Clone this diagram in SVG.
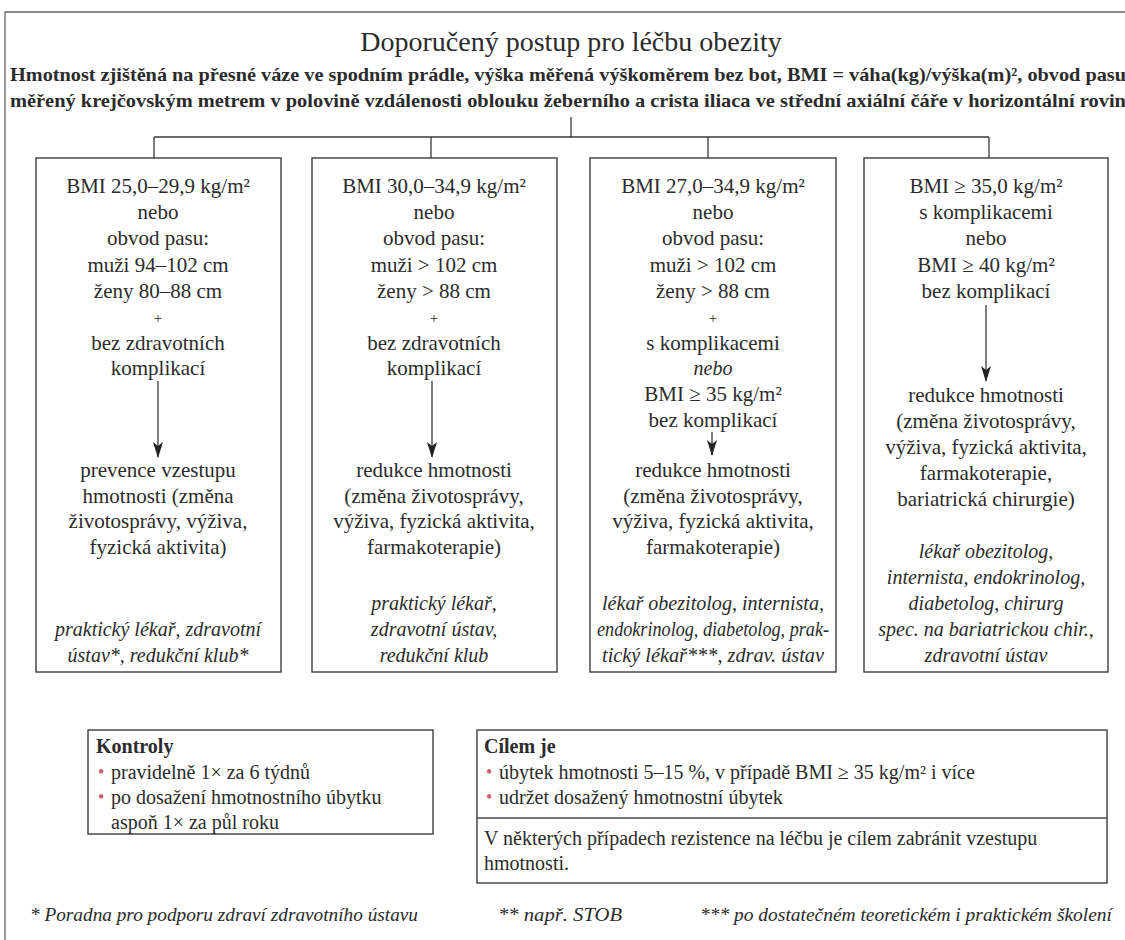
<svg xmlns="http://www.w3.org/2000/svg" width="1125" height="940" viewBox="0 0 1125 940" font-family="Liberation Serif">
<style>
text{fill:#2b2b2b}
.t{font-size:21px;text-anchor:middle}
.i{font-size:20px;font-style:italic;text-anchor:middle}
.b{fill:#fff;stroke:#4a4a4a;stroke-width:1.5}
.c{fill:none;stroke:#3a3a3a;stroke-width:1.3}
.l{font-size:20px}
.bul{fill:#d0606a}
</style>
<defs>
<marker id="ah" markerWidth="16" markerHeight="10" refX="15" refY="5" orient="auto" markerUnits="userSpaceOnUse" viewBox="0 0 16 10">
<path d="M0,0 L4,5 L0,10 L16,5 Z" fill="#222"/>
</marker>
</defs>
<rect width="1125" height="940" fill="#fff"/>
<path d="M1125,12 H5 V940" fill="none" stroke="#666" stroke-width="1.3"/>

<g id="title">
<text x="571" y="51" style="font-size:28px;text-anchor:middle">Doporučený postup pro léčbu obezity</text>
<text x="10" y="81" style="font-size:19px;font-weight:bold" textLength="1116" lengthAdjust="spacingAndGlyphs">Hmotnost zjištěná na přesné váze ve spodním prádle, výška měřená výškoměrem bez bot, BMI = váha(kg)/výška(m)², obvod pasu</text>
<text x="10" y="107" style="font-size:19px;font-weight:bold" textLength="1125" lengthAdjust="spacingAndGlyphs">měřený krejčovským metrem v polovině vzdálenosti oblouku žeberního a crista iliaca ve střední axiální čáře v horizontální rovině</text>
</g>

<g id="box1">
<rect class="b" x="36" y="158" width="245" height="514"/>
<text class="t" x="158" y="193">BMI 25,0–29,9 kg/m²</text>
<text class="t" x="158" y="219">nebo</text>
<text class="t" x="158" y="245">obvod pasu:</text>
<text class="t" x="158" y="272">muži 94–102 cm</text>
<text class="t" x="158" y="298">ženy 80–88 cm</text>
<text class="t" x="158" y="323" style="font-size:15px">+</text>
<text class="t" x="158" y="350">bez zdravotních</text>
<text class="t" x="158" y="375">komplikací</text>
<text class="t" x="158" y="477">prevence vzestupu</text>
<text class="t" x="158" y="503">hmotnosti (změna</text>
<text class="t" x="158" y="528">životosprávy, výživa,</text>
<text class="t" x="158" y="554">fyzická aktivita)</text>
<text class="i" x="158" y="636">praktický lékař, zdravotní</text>
<text class="i" x="158" y="662">ústav*, redukční klub*</text>
</g>

<g id="box2">
<rect class="b" x="312" y="158" width="245" height="514"/>
<text class="t" x="434" y="193">BMI 30,0–34,9 kg/m²</text>
<text class="t" x="434" y="219">nebo</text>
<text class="t" x="434" y="245">obvod pasu:</text>
<text class="t" x="434" y="272">muži &gt; 102 cm</text>
<text class="t" x="434" y="298">ženy &gt; 88 cm</text>
<text class="t" x="434" y="323" style="font-size:15px">+</text>
<text class="t" x="434" y="350">bez zdravotních</text>
<text class="t" x="434" y="375">komplikací</text>
<text class="t" x="434" y="477">redukce hmotnosti</text>
<text class="t" x="434" y="503">(změna životosprávy,</text>
<text class="t" x="434" y="528">výživa, fyzická aktivita,</text>
<text class="t" x="434" y="554">farmakoterapie)</text>
<text class="i" x="434" y="610">praktický lékař,</text>
<text class="i" x="434" y="636">zdravotní ústav,</text>
<text class="i" x="434" y="662">redukční klub</text>
</g>

<g id="box3">
<rect class="b" x="590" y="158" width="246" height="514"/>
<text class="t" x="713" y="193">BMI 27,0–34,9 kg/m²</text>
<text class="t" x="713" y="219">nebo</text>
<text class="t" x="713" y="245">obvod pasu:</text>
<text class="t" x="713" y="272">muži &gt; 102 cm</text>
<text class="t" x="713" y="298">ženy &gt; 88 cm</text>
<text class="t" x="713" y="323" style="font-size:15px">+</text>
<text class="t" x="713" y="350">s komplikacemi</text>
<text class="i" x="713" y="375">nebo</text>
<text class="t" x="713" y="401">BMI ≥ 35 kg/m²</text>
<text class="t" x="713" y="427">bez komplikací</text>
<text class="t" x="713" y="477">redukce hmotnosti</text>
<text class="t" x="713" y="503">(změna životosprávy,</text>
<text class="t" x="713" y="528">výživa, fyzická aktivita,</text>
<text class="t" x="713" y="554">farmakoterapie)</text>
<text class="i" x="713" y="610" textLength="222" lengthAdjust="spacingAndGlyphs">lékař obezitolog, internista,</text>
<text class="i" x="713" y="636" textLength="232" lengthAdjust="spacingAndGlyphs">endokrinolog, diabetolog, prak-</text>
<text class="i" x="713" y="662" textLength="222" lengthAdjust="spacingAndGlyphs">tický lékař***, zdrav. ústav</text>
</g>

<g id="box4">
<rect class="b" x="864" y="158" width="244" height="514"/>
<text class="t" x="986" y="193">BMI ≥ 35,0 kg/m²</text>
<text class="t" x="986" y="219">s komplikacemi</text>
<text class="t" x="986" y="245">nebo</text>
<text class="t" x="986" y="272">BMI ≥ 40 kg/m²</text>
<text class="t" x="986" y="298">bez komplikací</text>
<text class="t" x="986" y="402">redukce hmotnosti</text>
<text class="t" x="986" y="428">(změna životosprávy,</text>
<text class="t" x="986" y="454">výživa, fyzická aktivita,</text>
<text class="t" x="986" y="480">farmakoterapie,</text>
<text class="t" x="986" y="506">bariatrická chirurgie)</text>
<text class="i" x="986" y="558">lékař obezitolog,</text>
<text class="i" x="986" y="584">internista, endokrinolog,</text>
<text class="i" x="986" y="610">diabetolog, chirurg</text>
<text class="i" x="986" y="636">spec. na bariatrickou chir.,</text>
<text class="i" x="986" y="662">zdravotní ústav</text>
</g>

<g id="kontroly">
<rect class="b" x="88" y="730" width="345" height="104"/>
<text x="96" y="753" style="font-size:20px;font-weight:bold">Kontroly</text>
<text class="bul" x="98" y="778" style="font-size:18px">•</text>
<text class="l" x="111" y="779">pravidelně 1× za 6 týdnů</text>
<text class="bul" x="98" y="803" style="font-size:18px">•</text>
<text class="l" x="111" y="804">po dosažení hmotnostního úbytku</text>
<text class="l" x="111" y="829">aspoň 1× za půl roku</text>
</g>

<g id="cilem">
<rect class="b" x="477" y="730" width="630" height="153"/>
<line x1="477" y1="818" x2="1107" y2="818" stroke="#4a4a4a" stroke-width="1.5"/>
<text x="484" y="753" style="font-size:20px;font-weight:bold">Cílem je</text>
<text class="bul" x="486" y="778" style="font-size:18px">•</text>
<text class="l" x="499" y="779">úbytek hmotnosti 5–15 %, v  případě BMI ≥ 35 kg/m² i více</text>
<text class="bul" x="486" y="803" style="font-size:18px">•</text>
<text class="l" x="499" y="804">udržet dosažený hmotnostní úbytek</text>
<text class="l" x="484" y="845"> V  některých případech rezistence na léčbu je cílem zabránit vzestupu</text>
<text class="l" x="484" y="870">hmotnosti.</text>
</g>

<g id="footnotes">
<text x="30" y="921" style="font-size:18px;font-style:italic" textLength="388" lengthAdjust="spacingAndGlyphs">* Poradna pro podporu zdraví zdravotního ústavu</text>
<text x="498" y="921" style="font-size:18px;font-style:italic" textLength="124" lengthAdjust="spacingAndGlyphs">** např. STOB</text>
<text x="700" y="921" style="font-size:18px;font-style:italic" textLength="412" lengthAdjust="spacingAndGlyphs">*** po dostatečném teoretickém i praktickém školení</text>
</g>

<g id="connectors">
<path class="c" d="M571,117 V137 M154,137 H989 M154,137 V158 M431,137 V158 M708,137 V158 M989,137 V158"/>
<line class="c" x1="158" y1="381" x2="158" y2="457" marker-end="url(#ah)"/>
<line class="c" x1="432" y1="381" x2="432" y2="457" marker-end="url(#ah)"/>
<line class="c" x1="712" y1="432" x2="712" y2="455" marker-end="url(#ah)"/>
<line class="c" x1="986" y1="305" x2="986" y2="381" marker-end="url(#ah)"/>
</g>
</svg>
